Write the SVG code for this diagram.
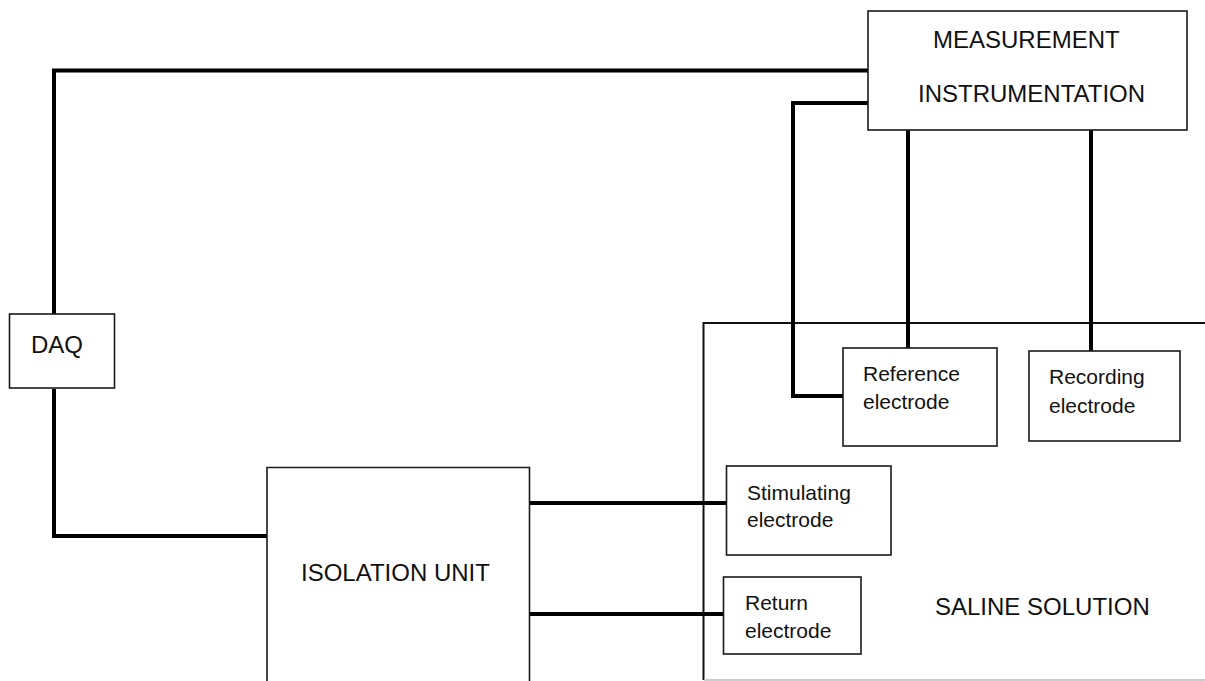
<svg xmlns="http://www.w3.org/2000/svg" width="1205" height="681" viewBox="0 0 1205 681">
<style>
.box{fill:#fff;stroke:#1a1a1a;stroke-width:1.6}
.wire{fill:none;stroke:#000;stroke-width:4;stroke-linecap:butt;stroke-linejoin:miter}
.big{font-family:"Liberation Sans",Arial,sans-serif;font-size:24px;fill:#111}
.small{font-family:"Liberation Sans",Arial,sans-serif;font-size:21px;fill:#111}
</style>
<rect width="1205" height="681" fill="#fff"/>
<g id="saline">
<path d="M1206 323 H703.5 V680" fill="none" stroke="#111" stroke-width="2"/>
<path d="M704 680 H1206" fill="none" stroke="#bbb" stroke-width="1.5"/>
<text class="big" x="935" y="615">SALINE SOLUTION</text>
</g>
<g id="connectors">
<path class="wire" d="M868 70.5 H54 V314"/>
<path class="wire" d="M54 389 V536 H267"/>
<path class="wire" d="M868 103 H793 V396 H843"/>
<path class="wire" d="M908 130 V348"/>
<path class="wire" d="M1091 130 V351"/>
<path class="wire" d="M527 503 H726"/>
<path class="wire" d="M529 614 H723"/>
</g>
<g id="measurement">
<rect class="box" x="868" y="11" width="319" height="119"/>
<text class="big" x="933" y="48">MEASUREMENT</text>
<text class="big" x="918" y="102">INSTRUMENTATION</text>
</g>
<g id="daq">
<rect class="box" x="9.5" y="314" width="105" height="74"/>
<text class="big" x="31" y="353">DAQ</text>
</g>
<g id="isolation">
<path class="box" d="M267 683 V467.5 H529.5 V683"/>
<text class="big" x="301" y="581">ISOLATION UNIT</text>
</g>
<g id="reference">
<rect class="box" x="843" y="348" width="154" height="98"/>
<text class="small" x="863" y="381">Reference</text>
<text class="small" x="863" y="409">electrode</text>
</g>
<g id="recording">
<rect class="box" x="1029" y="351" width="151" height="90"/>
<text class="small" x="1049" y="384">Recording</text>
<text class="small" x="1049" y="413">electrode</text>
</g>
<g id="stimulating">
<rect class="box" x="726.5" y="466" width="164.5" height="89"/>
<text class="small" x="747" y="500">Stimulating</text>
<text class="small" x="747" y="527">electrode</text>
</g>
<g id="return">
<rect class="box" x="723.5" y="577" width="137.5" height="77"/>
<text class="small" x="745" y="610">Return</text>
<text class="small" x="745" y="638">electrode</text>
</g>
</svg>
